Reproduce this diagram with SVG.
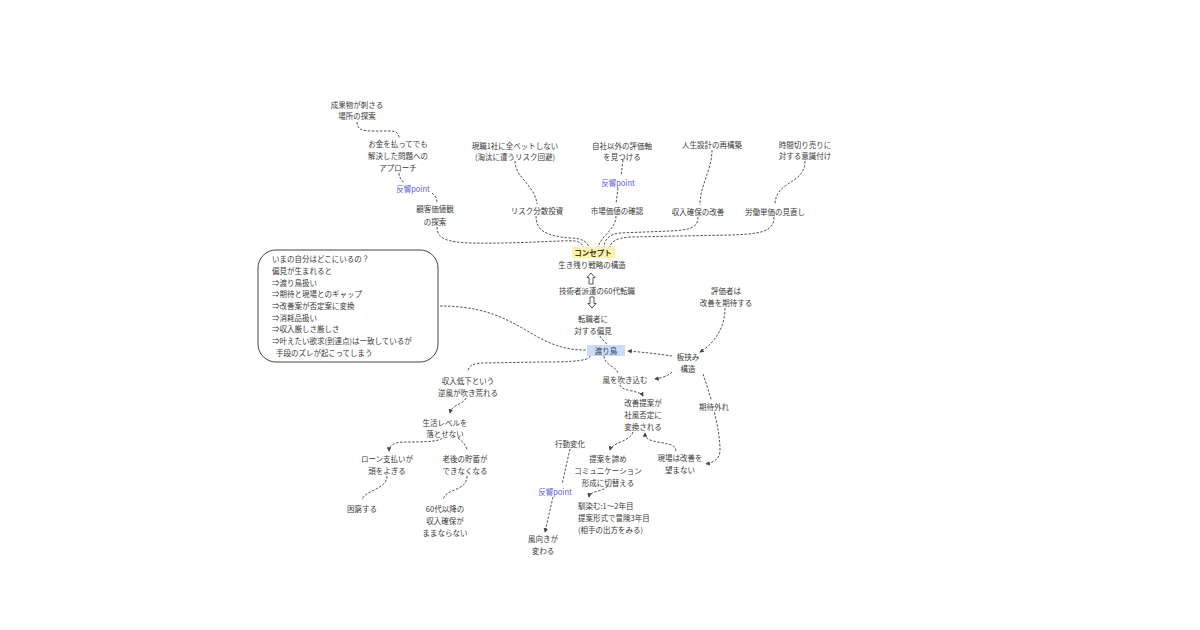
<svg xmlns="http://www.w3.org/2000/svg" width="1200" height="630" viewBox="0 0 1200 630">
<defs>
<marker id="ah" viewBox="0 0 6 6" refX="5" refY="3" markerWidth="4.5" markerHeight="4.5" orient="auto-start-reverse"><path d="M0,0 L6,3 L0,6 Z" fill="#444"/></marker>
<style>
text{font-family:"Noto Sans CJK JP","Noto Sans",sans-serif;font-size:7.5px;fill:#3a3a3a;text-anchor:middle;dominant-baseline:central}
.l{text-anchor:start}
.p{fill:#5a5ad8}
.b{font-weight:bold}
.ar{fill:none;stroke:#444;stroke-width:0.9}
.c path{fill:none;stroke:#555;stroke-width:1;stroke-dasharray:2.5 1.5}
.a{marker-end:url(#ah)}
</style>
</defs>
<rect width="1200" height="630" fill="#fff"/>
<g class="c" id="connectors">
<path d="M357,122 C357,130 362,131 375,131 L390,131 C397,131 399,134 399,138"/>
<path d="M399,173 C399,178 402,180 404,183"/>
<path d="M432,193 C436,197 437,199 437,202"/>
<path d="M437,227 C437,238 445,242 470,243 C520,244 560,240 575,241 C581,242 583,245 583,248"/>
<path d="M515,161 C515,178 535,185 537,204"/>
<path d="M536,216 C536,230 545,236 570,238 C582,238 588,242 589,248"/>
<path d="M623,160 L621,176"/>
<path d="M618,188 L616,204"/>
<path d="M616,216 C616,230 600,236 598,248"/>
<path d="M712,150 C712,170 700,185 700,205"/>
<path d="M698,217 C698,228 690,230 670,231 L620,233 C609,234 604,240 604,248"/>
<path d="M805,161 C805,185 775,180 775,205"/>
<path d="M774,217 C774,232 760,234 730,235 L630,237 C616,238 610,242 610,248"/>
<path d="M600,336 C602,341 606,341 607,345"/>
<path class="a" d="M725,308 C725,330 712,345 700,352"/>
<path class="a" d="M672,356 C660,354 640,352 628,351"/>
<path class="a" d="M672,372 C668,376 662,378 655,379"/>
<path d="M604,356 C604,365 616,366 618,373"/>
<path class="a" d="M620,385 C622,392 640,390 643,396"/>
<path class="a" d="M703,374 C712,400 720,430 720,450 C720,460 712,463 706,464"/>
<path class="a" d="M633,432 C630,442 612,442 610,450"/>
<path class="a" d="M676,451 C676,442 660,444 650,440 C646,438 645,436 645,433"/>
<path class="a" d="M607,486 C605,492 590,490 589,497"/>
<path d="M570,449 L562,484"/>
<path class="a" d="M553,497 L545,532"/>
<path d="M590,356 C590,362 560,362 540,362 L485,363 C472,363 468,366 468,372"/>
<path class="a" d="M466,398 C463,405 452,404 450,413"/>
<path class="a" d="M442,438 C440,442 420,442 405,442 C393,442 389,446 389,451"/>
<path d="M458,438 C463,442 467,446 467,451"/>
<path d="M387,476 C387,490 364,490 362,500"/>
<path d="M467,476 C467,492 445,488 443,500"/>
<path d="M440,306 C500,306 520,330 550,343 C565,349 575,350 586,350"/>
</g>
<g id="n-sasaru"><text x="357" y="104">成果物が刺さる</text><text x="357" y="115">場所の探索</text></g>
<g id="n-okane"><text x="398" y="143">お金を払ってでも</text><text x="398" y="155">解決した問題への</text><text x="398" y="167">アプローチ</text></g>
<g id="n-p1"><text class="p" x="413" y="188">反響point</text></g>
<g id="n-kachi"><text x="435" y="208">顧客価値観</text><text x="435" y="221">の探索</text></g>
<g id="n-bet"><text x="515" y="145">現職1社に全ベットしない</text><text x="515" y="156">(淘汰に遭うリスク回避)</text></g>
<g id="n-risk"><text x="537" y="210">リスク分散投資</text></g>
<g id="n-jisha"><text x="622" y="145">自社以外の評価軸</text><text x="622" y="156">を見つける</text></g>
<g id="n-p2"><text class="p" x="618" y="182">反響point</text></g>
<g id="n-shijo"><text x="617" y="210">市場価値の確認</text></g>
<g id="n-jinsei"><text x="712" y="144">人生設計の再構築</text></g>
<g id="n-shunyu"><text x="698" y="211">収入確保の改善</text></g>
<g id="n-jikan"><text x="805" y="144">時間切り売りに</text><text x="805" y="155">対する意識付け</text></g>
<g id="n-rodo"><text x="775" y="211">労働単価の見直し</text></g>
<g id="n-concept"><rect x="572" y="247" width="43" height="11" fill="#fff1a6"/><text class="b" x="593" y="252.5">コンセプト</text><text x="592" y="264">生き残り戦略の構造</text></g>
<g id="n-tenshoku"><path class="ar" d="M591,273 L595,277.5 L593,277.5 L593,284 L589,284 L589,277.5 L587,277.5 Z"/><text x="597" y="290">技術者派遣の60代転職</text><path class="ar" d="M592,308 L596,303.5 L594,303.5 L594,297 L590,297 L590,303.5 L588,303.5 Z"/></g>
<g id="n-henken"><text x="593" y="318">転職者に</text><text x="593" y="330">対する偏見</text></g>
<g id="n-watari"><rect x="587" y="345" width="38" height="11" fill="#c9dcfb"/><text x="606" y="350.5">渡り鳥</text></g>
<g id="n-hyoka"><text x="726" y="290">評価者は</text><text x="726" y="302">改善を期待する</text></g>
<g id="n-itabasami"><text x="688" y="356">板挟み</text><text x="688" y="368">構造</text></g>
<g id="n-kaze"><text x="625" y="379">風を吹き込む</text></g>
<g id="n-kitai"><rect x="700" y="400" width="30" height="11" fill="#fff"/><text x="714" y="406">期待外れ</text></g>
<g id="n-kaizen"><text x="643" y="402">改善提案が</text><text x="643" y="414">社風否定に</text><text x="643" y="426">変換される</text></g>
<g id="n-genba"><text x="680" y="457">現場は改善を</text><text x="680" y="469">望まない</text></g>
<g id="n-teian"><text x="608" y="458">提案を諦め</text><text x="608" y="470">コミュニケーション</text><text x="608" y="482">形成に切替える</text></g>
<g id="n-najimu"><text class="l" x="578" y="505">馴染む:1〜2年目</text><text class="l" x="578" y="517">提案形式で冒険3年目</text><text class="l" x="578" y="529">(相手の出方をみる)</text></g>
<g id="n-kodo"><text x="570" y="443">行動変化</text></g>
<g id="n-p3"><text class="p" x="555" y="491">反響point</text></g>
<g id="n-kazamuki"><text x="543" y="538">風向きが</text><text x="543" y="550">変わる</text></g>
<g id="n-teika"><text x="468" y="380">収入低下という</text><text x="468" y="392">逆風が吹き荒れる</text></g>
<g id="n-seikatsu"><text x="445" y="422">生活レベルを</text><text x="445" y="433">落とせない</text></g>
<g id="n-loan"><text x="387" y="458">ローン支払いが</text><text x="387" y="470">頭をよぎる</text></g>
<g id="n-rogo"><text x="465" y="458">老後の貯蓄が</text><text x="465" y="470">できなくなる</text></g>
<g id="n-konkyu"><text x="362" y="508">困窮する</text></g>
<g id="n-60"><text x="445" y="508">60代以降の</text><text x="445" y="520">収入確保が</text><text x="445" y="532">ままならない</text></g>
<g id="n-box"><rect x="258" y="250" width="180" height="112" rx="18" fill="#fff" stroke="#444" stroke-width="1"/>
<text class="l" x="272" y="258">いまの自分はどこにいるの？</text>
<text class="l" x="272" y="270">偏見が生まれると</text>
<text class="l" x="272" y="282">⇒渡り鳥扱い</text>
<text class="l" x="272" y="293">⇒期待と現場とのギャップ</text>
<text class="l" x="272" y="305">⇒改善案が否定案に変換</text>
<text class="l" x="272" y="317">⇒消耗品扱い</text>
<text class="l" x="272" y="328">⇒収入厳しさ厳しさ</text>
<text class="l" x="272" y="340">⇒叶えたい欲求(到達点)は一致しているが</text>
<text class="l" x="276" y="352">手段のズレが起こってしまう</text></g>
</svg>
